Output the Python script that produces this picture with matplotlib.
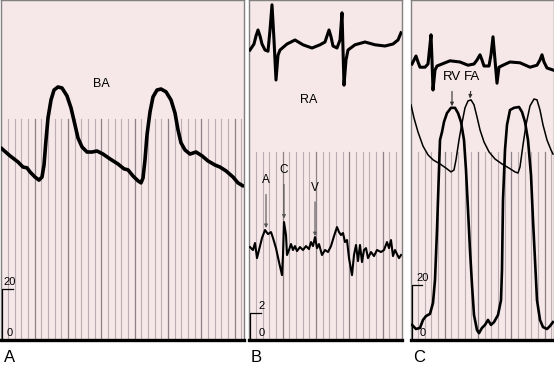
import numpy as np
import matplotlib
matplotlib.use("Agg")
import matplotlib.pyplot as plt
from matplotlib.transforms import blended_transform_factory

plt.rcParams['font.family'] = ['Liberation Sans', 'DejaVu Sans']

# ---------------- data (time in s, pressure in mmHg, ECG in mV) ----------------
# Panel A: brachial artery (BA)
ba_t = [0.00, 0.09, 0.17, 0.22, 0.26, 0.29, 0.34, 0.38, 0.41, 0.43, 0.45, 0.47, 0.50, 0.53,
        0.57, 0.61, 0.66, 0.70, 0.74, 0.77, 0.81, 0.86, 0.91, 0.96, 1.02, 1.09, 1.17, 1.23,
        1.27, 1.32, 1.37, 1.40, 1.42, 1.44, 1.46, 1.49, 1.52, 1.56, 1.60, 1.65, 1.70, 1.74,
        1.77, 1.80, 1.84, 1.89, 1.95, 2.01, 2.07, 2.14, 2.19, 2.25, 2.32, 2.37, 2.42]
ba_p = [75.3, 72.2, 69.8, 67.8, 67.5, 65.9, 63.9, 62.7, 63.9, 68.6, 78.4, 87.1, 94.1, 98.0,
        99.2, 98.8, 95.7, 91.0, 84.3, 79.2, 75.7, 73.7, 73.7, 74.1, 72.9, 71.0, 69.0, 67.1,
        66.7, 64.3, 62.4, 61.6, 63.5, 70.6, 80.4, 89.4, 95.3, 98.0, 98.4, 97.3, 94.1, 89.0,
        82.4, 77.3, 74.5, 72.9, 73.7, 72.2, 70.2, 68.6, 67.8, 66.3, 63.9, 61.6, 60.4]

# Panel B: ECG and right atrial (RA) pressure
ecg_b_t = [0.01, 0.05, 0.07, 0.09, 0.11, 0.13, 0.16, 0.19, 0.21, 0.23, 0.25, 0.27, 0.29, 0.31,
           0.38, 0.46, 0.54, 0.63, 0.71, 0.76, 0.78, 0.80, 0.82, 0.84, 0.88, 0.91, 0.93, 0.95,
           0.97, 0.99, 1.06, 1.16, 1.26, 1.36, 1.44, 1.49, 1.52]
ecg_b_v = [-0.05, 0.10, 0.30, 0.45, 0.30, 0.10, -0.05, -0.08, 0.45, 1.08, 0.20, -0.80, -0.18,
           -0.05, 0.10, 0.20, 0.08, 0.00, 0.08, 0.15, 0.30, 0.45, 0.28, 0.05, 0.00, 0.20, 0.88,
           -0.93, -0.30, -0.05, 0.08, 0.15, 0.08, 0.05, 0.10, 0.20, 0.38]
ra_t = [0.01, 0.04, 0.06, 0.08, 0.10, 0.13, 0.16, 0.19, 0.22, 0.24, 0.27, 0.30, 0.33, 0.34,
        0.35, 0.37, 0.38, 0.40, 0.42, 0.44, 0.46, 0.48, 0.51, 0.54, 0.57, 0.60, 0.62, 0.64,
        0.66, 0.68, 0.70, 0.73, 0.76, 0.79, 0.82, 0.85, 0.88, 0.90, 0.92, 0.94, 0.96, 0.98,
        1.00, 1.03, 1.05, 1.07, 1.09, 1.11, 1.13, 1.15, 1.17, 1.19, 1.22, 1.25, 1.28, 1.32,
        1.35, 1.38, 1.40, 1.42, 1.44, 1.46, 1.48, 1.50, 1.52]
ra_p = [6.89, 6.67, 7.19, 6.07, 6.67, 7.56, 8.15, 7.85, 8.00, 7.56, 6.81, 5.78, 4.81, 6.30,
        8.74, 7.78, 6.30, 6.67, 7.11, 6.67, 6.96, 6.59, 6.89, 6.67, 6.96, 6.74, 7.26, 6.96,
        7.63, 6.81, 7.11, 6.30, 6.67, 6.52, 6.96, 7.70, 8.37, 8.00, 7.78, 7.93, 7.26, 7.41,
        6.07, 4.81, 6.30, 7.04, 5.85, 7.04, 5.78, 6.67, 6.81, 6.07, 6.52, 6.22, 6.67, 6.52,
        6.67, 7.26, 6.81, 7.41, 6.22, 6.67, 6.37, 6.07, 6.30]
ra_marks = ['A', 'C', 'V']
ra_mark_t = [0.17, 0.35, 0.66]
ra_mark_p = [8.3, 9.0, 7.7]
ra_mark_text_p = [11.85, 12.6, 11.3]

# Panel C: ECG, right ventricular (RV) and femoral artery (FA) pressure
ecg_c_t = [0.01, 0.03, 0.05, 0.07, 0.09, 0.14, 0.17, 0.19, 0.20, 0.21, 0.22, 0.24, 0.26, 0.31,
           0.39, 0.49, 0.57, 0.63, 0.66, 0.69, 0.71, 0.73, 0.78, 0.80, 0.82, 0.84, 0.86, 0.88,
           0.92, 0.99, 1.09, 1.19, 1.26, 1.29, 1.31, 1.33, 1.36, 1.42]
ecg_c_v = [0.00, 0.10, 0.20, 0.05, -0.08, -0.08, 0.00, 0.48, 0.73, 0.10, -0.65, -0.15, -0.05,
           0.00, 0.08, 0.05, -0.03, 0.00, 0.10, 0.23, 0.10, -0.05, -0.05, 0.23, 0.68, 0.10,
           -0.48, -0.08, -0.03, 0.05, 0.03, -0.08, -0.03, 0.10, 0.23, 0.05, -0.10, -0.15]
rv_t = [0.01, 0.05, 0.09, 0.12, 0.15, 0.19, 0.22, 0.24, 0.26, 0.28, 0.29, 0.31, 0.33, 0.36,
        0.40, 0.44, 0.47, 0.50, 0.53, 0.55, 0.57, 0.59, 0.61, 0.63, 0.66, 0.68, 0.71, 0.74,
        0.77, 0.80, 0.83, 0.87, 0.90, 0.91, 0.92, 0.94, 0.96, 0.99, 1.03, 1.08, 1.11, 1.14,
        1.17, 1.20, 1.22, 1.24, 1.26, 1.29, 1.32, 1.36, 1.39, 1.42]
rv_p = [5.5, 4.0, 4.4, 7.3, 8.7, 9.5, 13.5, 21.8, 40.0, 61.8, 72.7, 75.6, 79.3, 82.5,
        84.4, 84.4, 82.5, 79.3, 72.7, 61.8, 47.3, 32.7, 20.0, 9.1, 3.6, 2.5, 4.4, 5.5,
        7.3, 5.5, 6.5, 9.1, 14.5, 25.5, 50.9, 69.1, 78.2, 83.6, 84.4, 84.7, 82.9, 79.3,
        72.7, 60.0, 43.6, 29.1, 14.5, 7.3, 4.7, 4.0, 5.1, 6.5]
fa_t = [0.00, 0.03, 0.07, 0.12, 0.17, 0.22, 0.29, 0.35, 0.40, 0.43, 0.45, 0.48, 0.51, 0.54,
        0.57, 0.60, 0.63, 0.66, 0.69, 0.73, 0.78, 0.84, 0.91, 0.98, 1.04, 1.07, 1.09, 1.12,
        1.15, 1.19, 1.23, 1.26, 1.29, 1.32, 1.36, 1.40, 1.42]
fa_p = [85.5, 80.7, 75.6, 70.5, 67.3, 65.5, 64.0, 62.5, 61.1, 61.8, 65.5, 72.7, 78.9, 84.4,
        86.9, 87.3, 85.5, 81.1, 76.4, 72.0, 68.4, 65.8, 64.0, 62.5, 61.1, 60.7, 62.9, 70.9,
        78.2, 85.1, 87.6, 87.3, 83.6, 78.2, 72.7, 69.1, 67.6]
c_marks = ['RV', 'FA']
c_mark_t = [0.41, 0.59]
c_mark_p = [85.0, 87.8]
c_mark_text_t = [0.41, 0.61]
c_mark_text_p = [95.6, 95.6]

panel_labels = ['A', 'B', 'C']
trace_labels = ['BA', 'RA']
scale_values = [20, 2, 20]

# ---------------- styling ----------------
BG = '#f6e7e8'
GRID_LIGHT = '#bcadb2'
GRID_DARK = '#8c8186'
EDGE = '#808080'

W, H = 554, 367
fig = plt.figure(figsize=(W / 100, H / 100), dpi=100)
fig.patch.set_facecolor('white')

# panel pixel extents (left, right); all panels share top=0, bottom=340
panels = [(1, 244), (249, 402), (411, 554)]
xlims = [2.43, 1.53, 1.43]
ylims = [(0, 133.3), (0, 25.2), (0, 123.6)]
grid_tops = [(340 - 119) / 340, (340 - 152) / 340, (340 - 152) / 340]

axes = []
for (l, r), xm, yl, gt in zip(panels, xlims, ylims, grid_tops):
    ax = fig.add_axes([l / W, (H - 340) / H, (r - l) / W, 340 / H])
    ax.set_facecolor(BG)
    ax.set_xlim(0, xm)
    ax.set_ylim(*yl)
    ax.set_xticks([])
    ax.set_yticks([])
    for s in ['left', 'right', 'top']:
        ax.spines[s].set_color(EDGE)
        ax.spines[s].set_linewidth(1.0)
    ax.spines['bottom'].set_color('black')
    ax.spines['bottom'].set_linewidth(2.4)
    tr = blended_transform_factory(ax.transData, ax.transAxes)
    xs = np.arange(0.07, xm, 0.0667)
    for i, x in enumerate(xs):
        dark = (i % 5 == 4)
        ax.plot([x, x], [0, gt], transform=tr,
                color=GRID_DARK if dark else GRID_LIGHT,
                lw=0.9 if dark else 0.8, zorder=1)
    axes.append(ax)

axA, axB, axC = axes

# ---- Panel A ----
axA.plot(ba_t, ba_p, color='black', lw=2.6, solid_joinstyle='round',
         solid_capstyle='round', zorder=3)
axA.text(1.00, 100.5, trace_labels[0], fontsize=9, ha='center', va='center')

# ---- Panel B ----
axB.plot(ra_t, ra_p, color='black', lw=1.5, zorder=3)
ecgB = axB.twinx()
ecgB.set_ylim(-7.3, 1.2)
ecgB.axis('off')
ecgB.plot(ecg_b_t, ecg_b_v, color='black', lw=2.2, zorder=3)
axB.text(0.60, 17.8, trace_labels[1], fontsize=9, ha='center', va='center')
for m, t, p, tp in zip(ra_marks, ra_mark_t, ra_mark_p, ra_mark_text_p):
    axB.annotate(m, xy=(t, p), xytext=(t, tp), ha='center', va='center', fontsize=8.5,
                 arrowprops=dict(arrowstyle='-|>', color='#555555', lw=0.8,
                                 mutation_scale=5, shrinkA=4, shrinkB=0),
                 zorder=4)

# ---- Panel C ----
ecgC = axC.twinx()
ecgC.set_ylim(-6.9, 1.6)
ecgC.axis('off')
ecgC.plot(ecg_c_t, ecg_c_v, color='black', lw=2.2, zorder=3)
axC.plot(fa_t, fa_p, color='black', lw=1.1, zorder=3)
axC.plot(rv_t, rv_p, color='black', lw=1.9, zorder=3)
for m, t, p, tt, tp in zip(c_marks, c_mark_t, c_mark_p, c_mark_text_t, c_mark_text_p):
    axC.annotate(m, xy=(t, p), xytext=(tt, tp), ha='center', va='center', fontsize=9.5,
                 arrowprops=dict(arrowstyle='-|>', color='#333333', lw=0.8,
                                 mutation_scale=5, shrinkA=4, shrinkB=0),
                 zorder=4)

# ---- scale bars ----
bar_len = [0.12, 0.12, 0.11]
for ax, v, bl, yl in zip(axes, scale_values, bar_len, ylims):
    ax.plot([0.005, 0.005, bl], [0, v, v], color='black', lw=0.9, zorder=3,
            clip_on=False)
    ax.text(0.02 if ax is axA else bl + 0.005, v + (yl[1] * 0.005),
            str(v), fontsize=8, ha='left' if ax is axA else 'center',
            va='bottom')
    ax.text(0.09 if ax is axA else bl + 0.01, yl[1] * 0.005, '0', fontsize=8,
            ha='center', va='bottom')

# ---- panel labels ----
for ax, lab in zip(axes, panel_labels):
    ax.text(0.012, -17 / 340, lab, transform=ax.transAxes, fontsize=12,
            ha='left', va='center')

fig.savefig('out.png', dpi=100, facecolor='white')
